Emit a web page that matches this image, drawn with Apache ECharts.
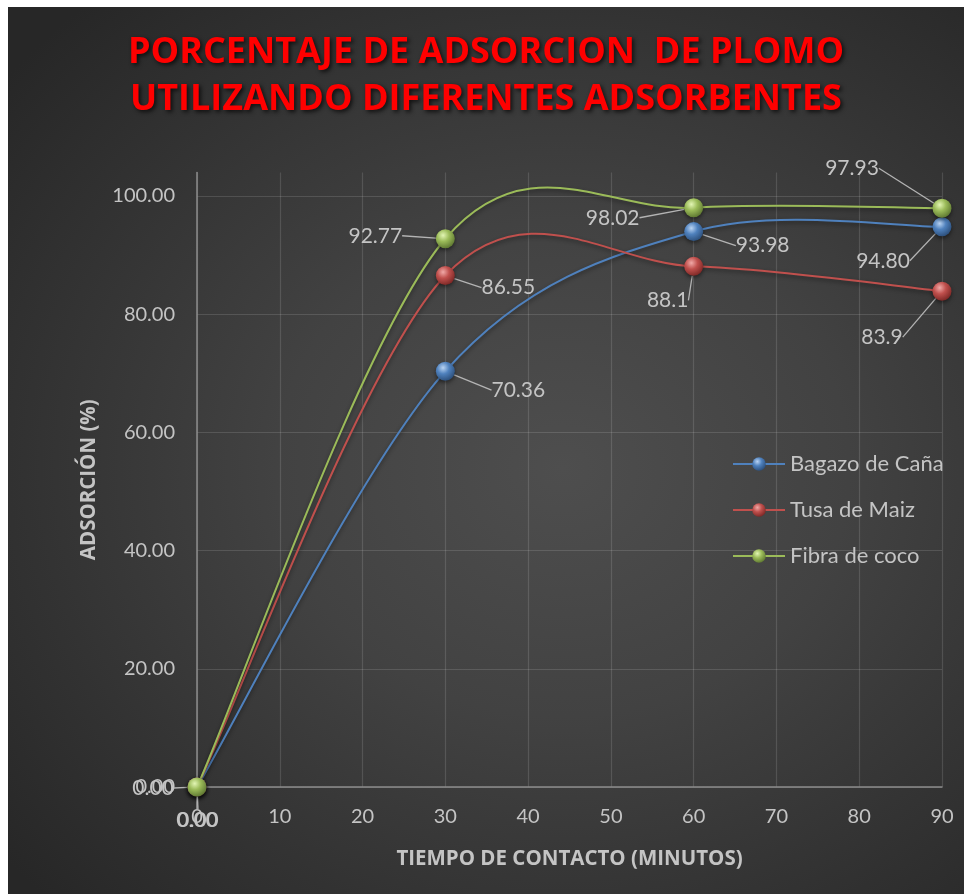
<!DOCTYPE html>
<html><head><meta charset="utf-8">
<script src="https://cdn.jsdelivr.net/npm/echarts@6/dist/echarts.min.js"></script>
<style>
html,body{margin:0;padding:0;background:#fff;width:969px;height:894px;overflow:hidden;}
#c{position:absolute;left:8px;top:7px;width:956px;height:887px;
background:radial-gradient(ellipse 75% 70% at 58% 52%, #4e4e4e 0%, #424242 40%, #323232 75%, #272727 100%);}
</style></head><body>
<div id="c"></div>
<script>
// ---- data ----
const times = [0, 30, 60, 90];
const seriesNames = ['Bagazo de Caña', 'Tusa de Maiz', 'Fibra de coco'];
const bagazo = [0.00, 70.36, 93.98, 94.80];
const tusa = [0.00, 86.55, 88.1, 83.9];
const fibra = [0.00, 92.77, 98.02, 97.93];
const bagazoLabels = ['0.00', '70.36', '93.98', '94.80'];
const tusaLabels = ['0.00', '86.55', '88.1', '83.9'];
const fibraLabels = ['0.00', '92.77', '98.02', '97.93'];
const xTicks = [0, 10, 20, 30, 40, 50, 60, 70, 80, 90];
const yTicks = [0, 20, 40, 60, 80, 100];

// ---- styling (label offsets from point centers) ----
const labelOffsets = [
  [[-44, 1], [73, 19], [69, 14], [-59, 34]],
  [[0, 33], [63, 12], [-26, 34], [-60, 46]],
  [[1, 33], [-70, -3], [-81, 10], [-90, -40]]
];
const colors = ['#4f81bd', '#c0504d', '#9bbb59'];
const light = ['#b9d3f2', '#f0a9a7', '#e2f5b4'];
const dark = ['#2b4d78', '#7a2624', '#5c7530'];

function sphere(i) {
  return {type: 'radial', x: 0.38, y: 0.32, r: 0.72,
    colorStops: [{offset: 0, color: light[i]}, {offset: 0.45, color: colors[i]}, {offset: 1, color: dark[i]}]};
}
const allValues = [bagazo, tusa, fibra];
const allLabels = [bagazoLabels, tusaLabels, fibraLabels];

// Office-style smoothed curve (cubic Bezier, 1/6 tangent arms), built in pixel space via the axes
function smoothPath(api, vals) {
  const p = times.map((t, k) => api.coord([t, vals[k]]));
  const n = p.length;
  let d = 'M' + p[0][0] + ' ' + p[0][1];
  for (let i = 0; i < n - 1; i++) {
    const p0 = p[Math.max(i - 1, 0)], p1 = p[i], p2 = p[i + 1], p3 = p[Math.min(i + 2, n - 1)];
    const c1 = [p1[0] + (p2[0] - p0[0]) / 6, p1[1] + (p2[1] - p0[1]) / 6];
    const c2 = [p2[0] - (p3[0] - p1[0]) / 6, p2[1] - (p3[1] - p1[1]) / 6];
    d += ' C' + c1[0] + ' ' + c1[1] + ' ' + c2[0] + ' ' + c2[1] + ' ' + p2[0] + ' ' + p2[1];
  }
  return d;
}

const chart = echarts.init(document.getElementById('c'));
const curveSeries = allValues.map((vals, si) => ({
  name: 'curve' + si,
  type: 'custom',
  coordinateSystem: 'cartesian2d',
  z: 2,
  silent: true,
  data: vals.map((v, k) => [times[k], v]),
  encode: {x: 0, y: 1},
  renderItem: (params, api) => {
    if (params.dataIndex !== 0) return null;
    return {
      type: 'path',
      shape: {pathData: smoothPath(api, vals)},
      style: {fill: null, stroke: colors[si], lineWidth: 2,
        shadowBlur: 4, shadowColor: 'rgba(0,0,0,0.45)', shadowOffsetY: 2}
    };
  }
}));

const pointSeries = allValues.map((vals, si) => ({
  name: seriesNames[si],
  type: 'line',
  data: vals.map((v, k) => [times[k], v]),
  symbol: 'circle',
  symbolSize: 19,
  z: 3 + si,
  lineStyle: {color: colors[si], width: 2, opacity: 0},
  itemStyle: {color: sphere(si), shadowBlur: 4, shadowColor: 'rgba(0,0,0,0.5)', shadowOffsetY: 2},
  label: {show: true, position: 'inside', color: '#c4c4c4', fontFamily: 'Lato', fontSize: 21,
    formatter: p => allLabels[si][p.dataIndex]},
  labelLine: {show: true, lineStyle: {color: '#b4b4b4', width: 1.3}},
  labelLayout: p => {
    const o = labelOffsets[si][p.dataIndex];
    return {x: p.rect.x + p.rect.width / 2 + o[0], y: p.rect.y + p.rect.height / 2 + o[1], align: 'center', verticalAlign: 'middle'};
  },
  emphasis: {disabled: true}
}));

chart.setOption({
  animation: false,
  title: {
    text: 'PORCENTAJE DE ADSORCION  DE PLOMO\nUTILIZANDO DIFERENTES ADSORBENTES',
    left: 'center', top: 17,
    textStyle: {color: '#ff0000', fontFamily: 'Open Sans', fontWeight: 'bold', fontSize: 36, lineHeight: 47,
      textShadowColor: 'rgba(0,0,0,0.7)', textShadowBlur: 4, textShadowOffsetX: 2, textShadowOffsetY: 2}
  },
  grid: {left: 189, right: 22, top: 165.4, bottom: 107, containLabel: false},
  legend: {
    orient: 'vertical', left: 719, top: 441, itemWidth: 52, itemHeight: 17, itemGap: 24,
    textStyle: {color: '#c4c4c4', fontFamily: 'Lato', fontSize: 22},
    data: seriesNames.map((nm, i) => ({name: nm, lineStyle: {color: colors[i], width: 2, opacity: 1}}))
  },
  xAxis: {
    type: 'value', min: xTicks[0], max: xTicks[xTicks.length - 1], interval: xTicks[1] - xTicks[0],
    name: 'TIEMPO DE CONTACTO (MINUTOS)', nameLocation: 'middle', nameGap: 62,
    nameTextStyle: {color: '#c4c4c4', fontFamily: 'Open Sans', fontWeight: 'bold', fontSize: 20.5},
    axisLine: {show: true, lineStyle: {color: '#8c8c8c', width: 1.5}},
    axisTick: {show: false},
    axisLabel: {color: '#c4c4c4', fontFamily: 'Lato', fontSize: 20, margin: 20},
    splitLine: {show: true, lineStyle: {color: 'rgba(255,255,255,0.13)', width: 1.2}}
  },
  yAxis: {
    type: 'value', min: yTicks[0], max: 104, interval: yTicks[1] - yTicks[0],
    name: 'ADSORCIÓN (%)', nameLocation: 'middle', nameGap: 97, nameRotate: 90,
    nameTextStyle: {color: '#c4c4c4', fontFamily: 'Open Sans', fontWeight: 'bold', fontSize: 20.5},
    axisLine: {show: true, lineStyle: {color: '#8c8c8c', width: 1.5}},
    axisTick: {show: false},
    axisLabel: {color: '#c4c4c4', fontFamily: 'Lato', fontSize: 20, margin: 22, showMaxLabel: false,
      formatter: v => (yTicks.indexOf(v) >= 0 ? v.toFixed(2) : '')},
    splitLine: {show: true, showMaxLine: false, lineStyle: {color: 'rgba(255,255,255,0.13)', width: 1.2}}
  },
  series: curveSeries.concat(pointSeries)
});
</script>
</body></html>
